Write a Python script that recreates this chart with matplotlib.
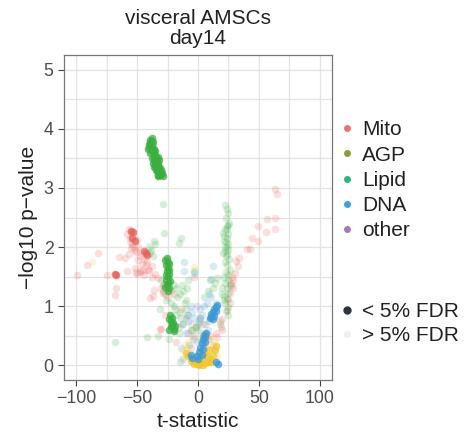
import numpy as np
import matplotlib.pyplot as plt
from matplotlib.lines import Line2D

plt.rcParams['font.family'] = ['Liberation Sans', 'DejaVu Sans']

# colours as seen in the panel and in the legend keys
point_cols = {'Mito': '#e8605a', 'AGP': '#f2c62a', 'Lipid': '#3aae3e',
              'DNA': '#3b98d6', 'other': '#a27abb'}
legend_cols = {'Mito': '#e8736c', 'AGP': '#8a9e3a', 'Lipid': '#2bb47c',
               'DNA': '#3aa3dc', 'other': '#a17abb'}
categories = ['Mito', 'AGP', 'Lipid', 'DNA', 'other']

# ---- significant points (< 5% FDR) ----
lipid_sig_t = [-39.5, -38.5, -39, -38, -37.5, -38.5, -37, -36.5, -40, -37, -39.5, -36,
               -40.5, -41, -35.5, -38,
               -36, -35.5, -34.5, -35, -34, -33.5, -35.5, -34.5, -36.5, -33, -37, -35,
               -32.5, -37.5, -36.5, -32,
               -33, -32.5, -33.5, -32, -31, -31.5, -30.5, -32.5, -30, -29.5, -31, -33,
               -29, -34.5,
               -25.5, -25, -26, -24.5, -25.5, -24, -25, -26, -24.5, -25.5, -24, -25,
               -27, -23.5, -26.5, -23, -27, -24,
               -23, -21.5, -22.5, -20.5, -21, -22, -19.5, -20, -23.5, -21, -18.5, -24]
lipid_sig_y = [3.82, 3.80, 3.75, 3.72, 3.68, 3.65, 3.62, 3.58, 3.70, 3.77, 3.60, 3.66,
               3.74, 3.66, 3.62, 3.84,
               3.55, 3.50, 3.52, 3.45, 3.42, 3.46, 3.40, 3.36, 3.48, 3.52, 3.42, 3.38,
               3.40, 3.50, 3.36, 3.48,
               3.38, 3.30, 3.28, 3.25, 3.28, 3.22, 3.24, 3.20, 3.30, 3.26, 3.34, 3.22,
               3.20, 3.30,
               1.82, 1.75, 1.70, 1.65, 1.60, 1.55, 1.50, 1.45, 1.40, 1.35, 1.30, 1.25,
               1.78, 1.62, 1.52, 1.42, 1.32, 1.72,
               0.85, 0.80, 0.75, 0.72, 0.68, 0.65, 0.62, 0.58, 0.78, 0.70, 0.66, 0.60]
mito_sig_t = [-68.5, -67.5, -55, -53.5, -52, -54, -43, -42, -44]
mito_sig_y = [1.54, 1.52, 2.28, 2.25, 2.10, 2.15, 1.90, 1.86, 1.93]
dna_sig_t = [16, 14.5, 13, 15, 12, 11, 13.5, 10.5, 12, 9.5,
             5, 4, 6, 3, 2, 4, 1, 3, -1, 0, -6, -5, 15, 16.5, 5.5, 6.5]
dna_sig_y = [1.02, 0.98, 0.95, 0.92, 0.90, 0.86, 0.84, 0.82, 0.78, 0.80,
             0.52, 0.45, 0.40, 0.38, 0.30, 0.28, 0.22, 0.18, 0.15, 0.10, 0.18, 0.12, 0.05, 0.02, 0.48, 0.55]
agp_sig_t = [0, 2, 4, 6, -2, 8, 10, 12, -4, -6, -8, -10, 14, 15, 11, 3, -1, 5, 7, 9, 1, -3]
agp_sig_y = [0.02, 0.04, 0.00, 0.03, 0.05, 0.06, 0.10, 0.15, 0.10, 0.08, 0.15, 0.20,
             0.25, 0.32, 0.05, 0.12, 0.15, 0.20, 0.15, 0.25, 0.00, 0.02]

# ---- non-significant points (> 5% FDR) ----
mito_ns_t = [-99, -91, -82, -75, -65, -67, -68, -58, -51,
             -57, -55, -56, -53, -54, -50, -52, -49, -57, -48, -46, -44, -42, -43,
             -45, -41, -38, -37, -39, -36, -31, -29, -27, -35, -33, -38, -30, -29, -25, -20, -22,
             -58, -56, -53, -51, -55, -49, -47, -50, -46, -60, -52, -48, -44, -40,
             63, 65, 57, 63, 49, 56, 63, 44, 49, 40, 42.5, 34, 31.5, 33, 30, 29, 27, 26, 24.6,
             24, 20, 19, 16, 13.5, 28, 27, 29, 26, -27, -30, 8, 18, 20, 15, -3, -14, -18,
             -10, -6, 4, 10, -16, 12]
mito_ns_y = [1.52, 1.70, 1.90, 1.52, 1.83, 1.30, 1.19, 1.60, 1.57,
             2.30, 2.25, 2.15, 2.18, 2.05, 2.12, 1.95, 2.00, 1.88, 1.85, 1.90, 1.80, 1.75, 1.70,
             1.60, 1.62, 1.68, 1.17, 1.13, 1.27, 0.62, 1.22, 1.20, 1.55, 1.48, 1.50, 1.30, 1.35, 1.15, 1.20, 1.25,
             2.22, 2.08, 2.00, 1.92, 1.98, 1.78, 1.62, 1.55, 1.72, 1.82, 1.65, 1.58, 1.52, 1.62,
             2.99, 2.90, 2.48, 2.50, 2.35, 2.25, 2.30, 2.16, 2.11, 1.96, 1.96, 1.82, 1.76, 1.68, 1.56,
             1.45, 1.34, 1.23, 1.12, 0.93, 0.79, 0.65, 0.48, 0.28, 1.50, 1.40, 1.30, 1.05, 0.85, 0.62,
             0.45, 0.75, 0.60, 0.55, 1.50, 0.95, 0.40,
             0.80, 0.30, 0.70, 0.50, 0.65, 0.35]
lipid_ns_t = [22, 24, 25, 23, 25.5, 24, 22.5, 25, 23.5, 21.5, 25, 22, 24.5, 20.5, 23, 25.5,
              22, 24, 26, 23, 25, 21, 24.5, 22.5, 26, 23.5, 25, 21.5, 24, 22.5, 25, 23, 24.5,
              24.6, 24, 20.5, 21, 23, 24, 22, 23.5, 19.5, 20, 21,
              -29, -28, -14, -15.5, -40, -38.5, -39, -37, -30, -28, -20, -18, -15, -12, -10,
              -8, -9, 5, 8, 12, 14, 16, 10, -68, -41.7, -33, -15, -18, -12, -20, -16, -24,
              -10, -3, -6, 2, -2, 4, 18, -13, -17, -36, -35,
              -22, -19, -14, -8, -5, 0, 3, 6, 9, 15, -11, -26, -29, -31]
lipid_ns_y = [2.72, 2.65, 2.58, 2.50, 2.40, 2.35, 2.30, 2.22, 2.15, 2.10, 2.05, 2.00, 1.95,
              1.90, 1.85, 1.80, 1.75, 1.70, 1.62, 1.58, 1.52, 1.50, 1.45, 1.40, 1.35, 1.30,
              1.22, 1.18, 1.12, 1.05, 0.98, 0.92, 0.85,
              2.38, 2.30, 2.24, 2.18, 2.08, 2.00, 1.94, 1.88, 1.30, 1.20, 1.10,
              2.73, 2.24, 2.16, 2.07, 2.00, 1.95, 1.90, 1.85, 1.45, 1.38, 1.35, 1.30, 1.20,
              1.25, 1.10, 1.45, 1.30, 1.15, 1.25, 1.30, 1.40, 1.48, 1.45, 0.40, 0.48, 0.50,
              0.90, 0.85, 0.70, 1.00, 0.55, 0.45, 0.95, 1.60, 0.60, 0.80, 0.65, 0.50, 0.70,
              1.35, 1.15, 2.10, 2.05,
              1.05, 0.95, 0.80, 0.85, 0.60, 0.70, 0.40, 0.55, 0.75, 1.05, 1.05, 1.10, 1.25, 0.95]
dna_ns_t = [-11.6, -11.6, 10.8, 12, -5, -3, -8, -2, 2, -10, 6, -14, -12, -15, 8, -6, 0,
            -4, -3, 9, 7, -7, 1, -9, -1, 3, 5, -13, 11]
dna_ns_y = [1.74, 1.60, 1.46, 1.68, 0.90, 0.80, 0.75, 0.65, 0.95, 0.55, 0.70, 0.30, 0.10,
            0.05, 0.60, 1.00, 0.60, 0.45, 1.56, 1.20, 1.05, 0.35, 0.75, 0.85, 0.40, 0.85,
            1.00, 0.70, 1.15]
agp_ns_t = [-87, -3, -12, -9, -11, 13, 10, -5, 3, 6, -7, 8, -2, 1, -14, 16]
agp_ns_y = [1.74, 1.66, 0.25, 0.30, 0.35, 0.40, 0.45, 0.50, 0.55, 0.35, 0.40, 0.30, 0.65,
            0.45, 0.10, 0.15]
other_ns_t = [-3, -6, 2, -1, 4, -8]
other_ns_y = [0.50, 0.70, 0.80, 1.00, 0.35, 0.55]

fig = plt.figure(figsize=(4.74, 4.34), dpi=100)
ax = fig.add_axes([64 / 474, 1 - 380 / 434, 268 / 474, 325 / 434])

ns_groups = [('Mito', mito_ns_t, mito_ns_y), ('Lipid', lipid_ns_t, lipid_ns_y),
             ('DNA', dna_ns_t, dna_ns_y), ('AGP', agp_ns_t, agp_ns_y),
             ('other', other_ns_t, other_ns_y)]
sig_groups = [('Mito', mito_sig_t, mito_sig_y), ('Lipid', lipid_sig_t, lipid_sig_y),
              ('AGP', agp_sig_t, agp_sig_y), ('DNA', dna_sig_t, dna_sig_y)]

for cat, t, y in ns_groups:
    ax.scatter(t, y, s=30, color=point_cols[cat], alpha=0.2, linewidths=0, zorder=2)
for cat, t, y in sig_groups:
    ax.scatter(t, y, s=30, color=point_cols[cat], alpha=0.75, linewidths=0, zorder=3)

ax.set_xlim(-110, 110)
ax.set_ylim(-0.25, 5.25)
ax.set_xticks([-100, -50, 0, 50, 100])
ax.set_yticks(range(6))
ax.set_xticks([-75, -25, 25, 75], minor=True)
ax.set_yticks(np.arange(0.5, 5, 1), minor=True)
ax.grid(True, which='both', color='#e3e3e3', linewidth=0.9)
ax.set_axisbelow(True)
ax.tick_params(which='minor', length=0)
ax.tick_params(which='major', length=4, color='#444444', labelsize=12.8,
               labelcolor='#4d4d4d', width=0.8)
for sp in ax.spines.values():
    sp.set_color('#777777')
    sp.set_linewidth(0.9)

ax.set_xlabel('t-statistic', fontsize=15, color='#222222', labelpad=3)
ax.set_ylabel('\u2212log10 p\u2212value', fontsize=15, color='#222222', labelpad=4)
ax.set_title('visceral AMSCs\nday14', fontsize=15, color='#222222', pad=8, linespacing=1.05)

cat_handles = [Line2D([], [], marker='o', linestyle='', markersize=5,
                      markerfacecolor=legend_cols[c], markeredgewidth=0) for c in categories]
fig.legend(cat_handles, categories, loc='upper left', bbox_to_anchor=(330 / 474, 1 - 112 / 434),
           frameon=False, fontsize=15, handlelength=0.8, handletextpad=0.35,
           labelspacing=0.3, borderaxespad=0)
fdr_handles = [Line2D([], [], marker='o', linestyle='', markersize=6,
                      markerfacecolor='#2a3340', markeredgewidth=0),
               Line2D([], [], marker='o', linestyle='', markersize=5,
                      markerfacecolor='#efefef', markeredgewidth=0)]
fig.legend(fdr_handles, ['< 5% FDR', '> 5% FDR'], loc='upper left',
           bbox_to_anchor=(330 / 474, 1 - 294 / 434), frameon=False, fontsize=15,
           handlelength=0.8, handletextpad=0.35, labelspacing=0.22, borderaxespad=0)
for leg in fig.legends:
    for txt in leg.get_texts():
        txt.set_color('#222222')

fig.savefig('out.png', dpi=100)
